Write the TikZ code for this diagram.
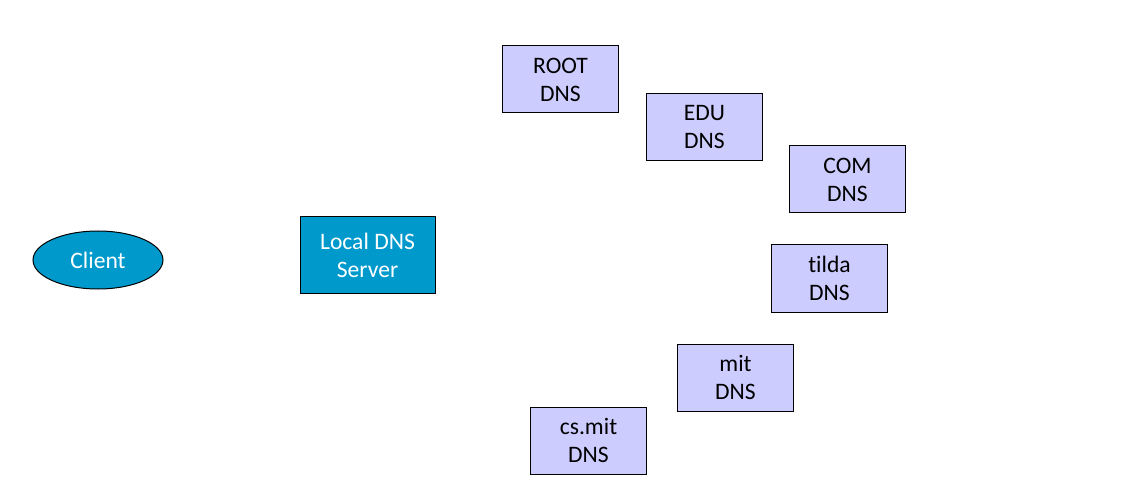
\documentclass[tikz,border=0pt]{standalone}
\usepackage{fontspec}
\setmainfont{Carlito}[Ligatures=NoCommon]
\usetikzlibrary{shapes.geometric}
\definecolor{srvblue}{RGB}{0,153,204}
\definecolor{dnslav}{RGB}{204,204,255}
\tikzset{every picture/.style={line width=0.75pt}}
\tikzset{
	dnsbox/.style={draw, fill=dnslav, minimum width=87pt, minimum height=50.25pt, inner sep=0pt, align=center, font=\fontsize{17.7}{21}\selectfont},
	localbox/.style={draw, fill=srvblue, text=white, minimum width=101.25pt, minimum height=57pt, inner sep=0pt, align=center, font=\fontsize{17.7}{21}\selectfont},
	clientnode/.style={draw, ellipse, fill=srvblue, text=white, minimum width=97.5pt, minimum height=43.5pt, inner sep=0pt, font=\fontsize{17.7}{21}\selectfont}
}

\begin{document}
\begin{tikzpicture}[x=0.75pt,y=0.75pt,yscale=-1,xscale=1]
	\useasboundingbox (0,0) rectangle (1138,495); %diagram is 1138 wide and 495 high
	%Shape: Ellipse [id:client]
	\node [clientnode] (client) at (98,260) {Client};
	%Shape: Rectangle [id:local]
	\node [localbox] (local) at (367.5,255) {Local DNS\\Server};
	%Shape: Rectangle [id:root]
	\node [dnsbox] (root) at (560.5,79.5) {ROOT\\DNS};
	%Shape: Rectangle [id:edu]
	\node [dnsbox] (edu) at (704.5,127) {EDU\\DNS};
	%Shape: Rectangle [id:com]
	\node [dnsbox] (com) at (847.5,179.5) {COM\\DNS};
	%Shape: Rectangle [id:tilda]
	\node [dnsbox] (tilda) at (829.5,278.5) {tilda\\DNS};
	%Shape: Rectangle [id:mit]
	\node [dnsbox] (mit) at (735.5,377.5) {mit\\DNS};
	%Shape: Rectangle [id:csmit]
	\node [dnsbox] (csmit) at (588.5,440.5) {cs.mit\\DNS};
\end{tikzpicture}
\end{document}
